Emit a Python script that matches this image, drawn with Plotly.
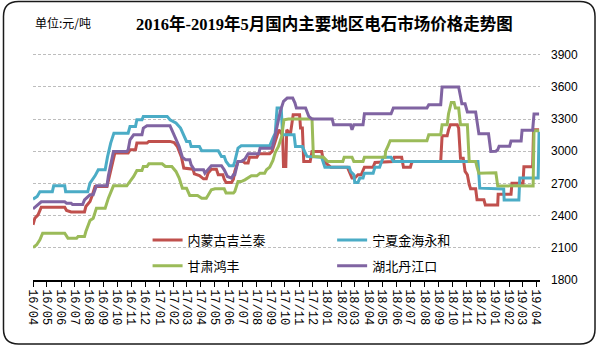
import plotly.graph_objects as go

TITLE = "2016年-2019年5月国内主要地区电石市场价格走势图"
UNIT = "单位:元/吨"
SERIES_NAMES = ["内蒙古吉兰泰", "宁夏金海永和", "甘肃鸿丰", "湖北丹江口"]
Y_TICKS = [1800, 2100, 2400, 2700, 3000, 3300, 3600, 3900]

# 内蒙古吉兰泰
NM_DATES = ["2016-04-01","2016-04-05","2016-04-12","2016-04-19","2016-06-09","2016-06-13","2016-06-23","2016-07-22",
            "2016-07-25","2016-08-03","2016-08-07","2016-08-14","2016-09-09","2016-09-19","2016-09-26","2016-10-25",
            "2016-10-29","2016-11-10","2016-11-13","2016-12-05","2016-12-09","2017-01-24","2017-02-02","2017-02-09",
            "2017-02-13","2017-02-18","2017-02-23","2017-03-15","2017-03-18","2017-03-29","2017-04-07","2017-04-13",
            "2017-04-17","2017-04-24","2017-05-05","2017-05-09","2017-05-19","2017-05-22","2017-05-26","2017-06-07",
            "2017-06-11","2017-06-14","2017-06-21","2017-07-02","2017-07-06","2017-07-13","2017-07-16","2017-08-01",
            "2017-08-05","2017-08-29","2017-09-03","2017-09-07","2017-09-14","2017-09-18","2017-09-26","2017-09-28",
            "2017-10-03","2017-10-05","2017-10-13","2017-10-19","2017-11-02","2017-11-04","2017-11-08","2017-11-11",
            "2017-11-25","2017-11-29","2017-12-20","2017-12-24","2018-01-05","2018-01-09","2018-02-14","2018-02-18",
            "2018-02-24","2018-03-02","2018-03-09","2018-03-16","2018-03-23","2018-04-11","2018-04-15","2018-05-24",
            "2018-05-27","2018-06-12","2018-06-16","2018-07-01","2018-07-04","2018-07-07","2018-09-05","2018-09-08",
            "2018-09-19","2018-09-22","2018-09-26","2018-10-11","2018-10-14","2018-10-18","2018-10-24","2018-10-28",
            "2018-11-02","2018-11-06","2018-11-09","2018-11-20","2018-11-23","2018-12-08","2018-12-11","2019-01-07",
            "2019-01-08","2019-02-05","2019-02-07","2019-03-03","2019-03-05","2019-03-24","2019-03-26","2019-04-07"]
NM_VALUES = [2314,2376,2407,2479,2479,2448,2435,2435,
             2485,2532,2579,2672,2672,2858,2983,2983,
             3014,3014,3076,3076,3092,3092,3082,3045,
             2998,2945,2843,2833,2790,2774,2743,2743,
             2796,2833,2833,2781,2781,2740,2709,2709,
             2740,2812,2905,2905,2890,2890,2945,2945,
             2977,2977,2998,3050,3154,3200,3150,2858,
             2858,3200,3160,3340,3340,3216,3216,2905,
             2905,2998,2998,2905,2865,2852,2852,2812,
             2750,2750,2781,2781,2852,2852,2896,2905,
             2945,2945,2852,2852,2896,2905,2905,3144,
             3144,3200,3247,3247,3216,2936,2936,2812,
             2781,2690,2650,2650,2548,2548,2500,2500,
             2600,2600,2703,2703,2856,2856,3200,3200]

# 宁夏金海永和
NX_DATES = ["2016-04-01","2016-04-10","2016-04-16","2016-05-13","2016-05-16","2016-06-09","2016-06-11","2016-07-29",
            "2016-08-03","2016-08-14","2016-08-21","2016-09-05","2016-09-10","2016-09-17","2016-09-24","2016-10-25",
            "2016-10-29","2016-11-10","2016-11-13","2016-11-24","2016-11-27","2017-01-18","2017-01-24","2017-02-06",
            "2017-02-16","2017-02-23","2017-03-01","2017-03-08","2017-03-11","2017-03-29","2017-04-03","2017-05-09",
            "2017-05-16","2017-05-22","2017-05-26","2017-06-02","2017-06-11","2017-06-14","2017-06-21","2017-06-28",
            "2017-08-29","2017-09-05","2017-09-10","2017-09-14","2017-09-23","2017-09-26","2017-10-06","2017-10-21",
            "2017-10-24","2017-11-08","2017-11-11","2017-11-18","2017-12-20","2017-12-27","2018-02-18","2018-02-21",
            "2018-02-28","2018-03-02","2018-03-09","2018-03-13","2018-03-20","2018-03-23","2018-04-11","2018-04-15",
            "2018-04-25","2018-05-03","2018-05-20","2018-05-25","2018-11-25","2018-11-29","2019-01-20","2019-01-21",
            "2019-02-22","2019-02-24","2019-04-05","2019-04-07"]
NX_VALUES = [2554,2578,2622,2622,2678,2678,2622,2622,
             2703,2771,2827,2827,2945,3076,3169,3169,
             3232,3232,3294,3294,3325,3325,3294,3263,
             3216,3154,3092,3092,3045,3045,3005,3005,
             2952,2952,2905,2865,2865,2905,3029,3051,
             3051,3123,3169,3403,3403,3154,3154,3154,
             3045,3045,3014,2952,2945,2852,2852,2812,
             2781,2709,2709,2750,2750,2796,2796,2852,
             2852,2945,2945,2905,2905,2656,2648,2546,
             2546,2751,2751,3183]

# 甘肃鸿丰
GS_DATES = ["2016-04-01","2016-04-09","2016-04-16","2016-04-22","2016-06-09","2016-06-16","2016-07-05","2016-07-08",
            "2016-07-22","2016-07-25","2016-08-03","2016-08-10","2016-08-17","2016-09-05","2016-09-12","2016-09-23",
            "2016-10-22","2016-10-29","2016-11-06","2016-11-13","2016-11-24","2016-11-27","2016-12-05","2016-12-09",
            "2017-01-07","2017-01-14","2017-01-28","2017-02-06","2017-02-13","2017-02-20","2017-03-01","2017-03-08",
            "2017-03-25","2017-04-03","2017-04-13","2017-04-17","2017-04-24","2017-05-02","2017-05-22","2017-05-26",
            "2017-06-11","2017-06-14","2017-06-21","2017-06-28","2017-07-06","2017-07-20","2017-08-01","2017-08-08",
            "2017-08-18","2017-08-22","2017-08-29","2017-09-05","2017-09-10","2017-09-17","2017-09-24","2017-09-29",
            "2017-10-09","2017-11-29","2017-12-02","2017-12-24","2018-01-02","2018-02-04","2018-02-07","2018-02-24",
            "2018-02-28","2018-03-20","2018-03-23","2018-05-07","2018-05-08","2018-05-13","2018-05-18","2018-08-06",
            "2018-08-10","2018-09-05","2018-09-08","2018-09-19","2018-09-22","2018-09-28","2018-10-04","2018-10-07",
            "2018-10-14","2018-10-18","2018-11-02","2018-11-06","2018-11-20","2018-11-23","2018-11-27","2019-01-03",
            "2019-01-07","2019-03-25","2019-03-27","2019-04-07"]
GS_VALUES = [2103,2128,2174,2236,2236,2190,2190,2205,
             2205,2252,2355,2376,2470,2470,2563,2678,
             2678,2718,2765,2821,2821,2858,2858,2883,
             2883,2858,2858,2812,2750,2656,2656,2588,
             2588,2563,2563,2590,2641,2650,2650,2610,
             2610,2625,2718,2718,2734,2771,2771,2796,
             2796,2827,2852,2914,2989,3045,3138,3294,
             3300,3300,2952,2945,2905,2905,2945,2945,
             2905,2905,2945,2945,2998,3045,3098,3098,
             3154,3154,3247,3247,3350,3455,3455,3403,
             3403,3247,3247,2905,2905,2852,2796,2800,
             2678,2676,3192,3192]

# 湖北丹江口
HB_DATES = ["2016-04-01","2016-04-09","2016-04-19","2016-06-09","2016-06-13","2016-06-23","2016-06-26","2016-07-18",
            "2016-07-22","2016-08-03","2016-08-10","2016-08-17","2016-09-09","2016-09-12","2016-09-23","2016-10-22",
            "2016-10-25","2016-10-29","2016-11-06","2016-11-24","2016-11-27","2016-12-05","2017-01-24","2017-01-28",
            "2017-02-06","2017-02-13","2017-02-20","2017-02-27","2017-03-08","2017-03-11","2017-03-18","2017-04-07",
            "2017-04-10","2017-04-17","2017-04-24","2017-05-16","2017-05-22","2017-05-29","2017-06-07","2017-06-11",
            "2017-06-14","2017-06-21","2017-06-28","2017-07-06","2017-07-13","2017-08-05","2017-08-08","2017-09-03",
            "2017-09-07","2017-09-14","2017-09-21","2017-09-28","2017-10-06","2017-10-18","2017-10-23","2017-10-26",
            "2017-11-15","2017-11-22","2017-11-29","2018-01-12","2018-01-15","2018-02-21","2018-02-24","2018-02-28",
            "2018-03-20","2018-03-23","2018-05-20","2018-05-25","2018-08-06","2018-08-10","2018-09-05","2018-09-08",
            "2018-10-14","2018-10-18","2018-10-21","2018-10-28","2018-11-02","2018-11-20","2018-11-23","2018-11-27",
            "2018-12-18","2018-12-23","2019-01-03","2019-01-07","2019-01-10","2019-02-02","2019-02-05","2019-02-27",
            "2019-03-01","2019-03-24","2019-03-27","2019-04-07"]
HB_VALUES = [2463,2491,2529,2529,2516,2516,2504,2504,
             2547,2594,2594,2678,2678,2771,2998,2998,
             3014,3107,3154,3154,3216,3238,3238,3200,
             3120,3045,2945,2920,2920,2874,2827,2827,
             2796,2827,2865,2865,2827,2765,2750,2781,
             2781,2905,2905,2927,2977,2977,3029,3029,
             3092,3232,3372,3465,3496,3496,3449,3403,
             3403,3325,3300,3300,3247,3247,3200,3247,
             3247,3350,3350,3403,3403,3434,3434,3600,
             3600,3513,3443,3443,3365,3365,3263,3163,
             3163,2998,3000,3014,3047,3047,3095,3095,
             3196,3196,3348,3348]

COLORS = {"内蒙古吉兰泰": "#C0504D", "宁夏金海永和": "#4BACC6",
          "甘肃鸿丰": "#9BBB59", "湖北丹江口": "#8064A2"}
DATA = [
    ("内蒙古吉兰泰", NM_DATES, NM_VALUES, "legend"),
    ("宁夏金海永和", NX_DATES, NX_VALUES, "legend2"),
    ("甘肃鸿丰", GS_DATES, GS_VALUES, "legend"),
    ("湖北丹江口", HB_DATES, HB_VALUES, "legend2"),
]

fig = go.Figure()
for name, xs, ys, leg in DATA:
    fig.add_trace(go.Scatter(
        x=xs, y=ys, mode="lines", name=name,
        line=dict(color=COLORS[name], width=3),
        legend=leg, legendgroup=name, hoverinfo="skip"))

CJK = "Noto Sans CJK SC"
legend_common = dict(
    orientation="v", bgcolor="rgba(0,0,0,0)", borderwidth=0,
    font=dict(family=CJK, size=13, color="#000000"),
    tracegroupgap=6, xanchor="left", yanchor="top", itemwidth=30,
)

fig.update_layout(
    width=601, height=346,
    margin=dict(l=33, r=61, t=44, b=66),
    paper_bgcolor="white", plot_bgcolor="white",
    showlegend=True,
    legend=dict(x=0.226, y=0.233, **legend_common),
    legend2=dict(x=0.590, y=0.233, **legend_common),
    xaxis=dict(
        type="date", range=["2016-04-01", "2019-04-09"],
        tick0="2016-04-01", dtick="M1", tickformat="%y/%m", tickangle=90,
        ticks="outside", ticklen=5, tickcolor="#000000", tickwidth=1,
        showline=True, linecolor="#000000", linewidth=1.5,
        showgrid=False, zeroline=False,
        tickfont=dict(family="Liberation Mono", size=12, color="#000000"),
    ),
    yaxis=dict(
        range=[1800, 4000], side="right", tickvals=Y_TICKS,
        ticks="", showline=False, zeroline=False,
        showgrid=True, gridcolor="#bdbdbd", gridwidth=1, griddash="3px,2px",
        tickfont=dict(family="Liberation Sans", size=12, color="#000000"),
        ticklabelstandoff=10,
    ),
    yaxis2=dict(
        range=[1800, 4000], overlaying="y", side="left", anchor="x",
        tickvals=Y_TICKS, ticks="inside", ticklen=4, tickcolor="#000000",
        showline=True, linecolor="#000000", linewidth=1.5,
        showgrid=False, zeroline=False, showticklabels=False,
    ),
    annotations=[
        dict(text="<b>" + TITLE + "</b>", xref="paper", yref="paper",
             x=0.574, y=1.085, xanchor="center", yanchor="middle", showarrow=False,
             font=dict(family="Liberation Serif, " + CJK, size=16.5, color="#000000")),
        dict(text=UNIT, xref="paper", yref="paper",
             x=0.0, y=1.093, xanchor="left", yanchor="middle", showarrow=False,
             font=dict(family=CJK, size=12, color="#000000")),
    ],
    shapes=[
        dict(type="path", xref="paper", yref="paper",
             path=("M -0.0286,1.1801 L 1.0789,1.1801 Q 1.1085,1.1801 1.1085,1.1165 "
                   "L 1.1085,-0.2076 Q 1.1085,-0.2712 1.0789,-0.2712 L -0.0286,-0.2712 "
                   "Q -0.0582,-0.2712 -0.0582,-0.2076 L -0.0582,1.1165 "
                   "Q -0.0582,1.1801 -0.0286,1.1801 Z"),
             line=dict(color="#1a1a1a", width=1.5), fillcolor="rgba(0,0,0,0)", layer="below"),
    ],
)

fig.write_html("out.html")
